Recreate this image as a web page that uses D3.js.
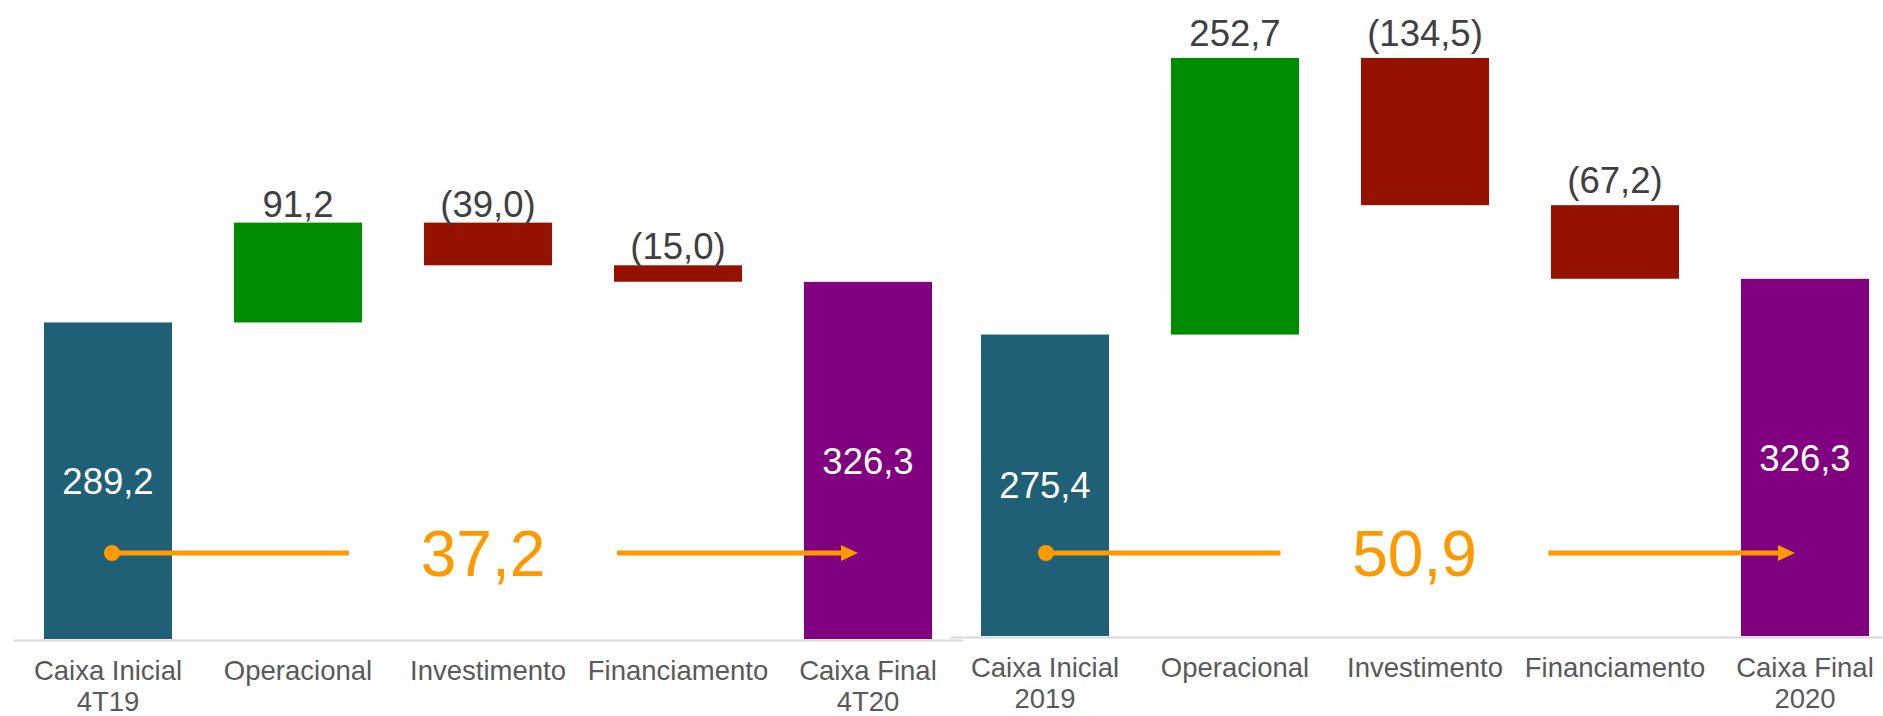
<!DOCTYPE html>
<html>
<head>
<meta charset="utf-8">
<script src="https://cdn.jsdelivr.net/npm/d3@7"></script>
<style>
  body { margin: 0; background: #fff; }
  text { font-family: "Liberation Sans", Arial, sans-serif; }
</style>
</head>
<body>
<div id="chart"></div>
<script>
// data
var leftLabels = [["Caixa Inicial", "4T19"], ["Operacional"], ["Investimento"], ["Financiamento"], ["Caixa Final", "4T20"]];
var leftValues = [289.2, 91.2, -39.0, -15.0, 326.3];
var leftChange = 37.2;

var rightLabels = [["Caixa Inicial", "2019"], ["Operacional"], ["Investimento"], ["Financiamento"], ["Caixa Final", "2020"]];
var rightValues = [275.4, 252.7, -134.5, -67.2, 326.3];
var rightChange = 50.9;

var W = 1883, H = 716;

var svg = d3.select("#chart")
    .append("svg")
    .attr("width", W)
    .attr("height", H);

var pt = d3.formatLocale({decimal: ",", thousands: ".", grouping: [3], currency: ["R$", ""]}).format(".1f");
function fmt(v) { return v < 0 ? "(" + pt(-v) + ")" : pt(v); }

var colors = {start: "#1f6076", up: "#008c00", down: "#941100", end: "#800080", arrow: "#ff9900"};

// each panel is a small waterfall
function drawPanel(labels, values, change, opt) {
    var g = svg.append("g");

    var x = d3.scaleBand()
        .domain(d3.range(values.length))
        .range(opt.xRange)
        .paddingInner(0.326)
        .paddingOuter(0.163);

    var y = d3.scaleLinear()
        .domain([0, 550])
        .range([opt.base, opt.base - 602]);

    // running totals -> [low, high] for each bar
    var acc = 0;
    var bars = values.map(function (v, i) {
        var last = i === values.length - 1;
        if (i === 0 || last) {
            acc = i === 0 ? v : acc;
            return {i: i, v: v, lo: 0, hi: v, kind: i === 0 ? "start" : "end"};
        }
        var from = acc;
        acc += v;
        return {i: i, v: v, lo: Math.min(from, acc), hi: Math.max(from, acc), kind: v >= 0 ? "up" : "down"};
    });

    g.selectAll("rect.bar")
        .data(bars)
        .join("rect")
        .attr("class", "bar")
        .attr("x", function (d) { return x(d.i); })
        .attr("width", x.bandwidth())
        .attr("y", function (d) { return y(d.hi); })
        .attr("height", function (d) { return y(d.lo) - y(d.hi); })
        .attr("fill", function (d) { return colors[d.kind]; });

    // labels above the floating bars
    g.selectAll("text.val")
        .data(bars.filter(function (d) { return d.kind === "up" || d.kind === "down"; }))
        .join("text")
        .attr("class", "val")
        .attr("x", function (d) { return x(d.i) + x.bandwidth() / 2; })
        .attr("y", function (d) { return y(d.hi) - opt.gap; })
        .attr("text-anchor", "middle")
        .style("font-size", "36.5px")
        .style("fill", "#404040")
        .text(function (d) { return fmt(d.v); });

    // labels inside the total bars
    g.selectAll("text.tot")
        .data(bars.filter(function (d) { return d.kind === "start" || d.kind === "end"; }))
        .join("text")
        .attr("class", "tot")
        .attr("x", function (d) { return x(d.i) + x.bandwidth() / 2; })
        .attr("y", function (d) { return (y(d.lo) + y(d.hi)) / 2; })
        .attr("dy", "0.36em")
        .attr("text-anchor", "middle")
        .style("font-size", "36.5px")
        .style("fill", "#fff")
        .text(function (d) { return fmt(d.v); });

    // x axis
    var ax = g.append("g")
        .attr("transform", "translate(0," + (opt.base + 1) + ")")
        .call(d3.axisBottom(x).tickSize(0).tickSizeOuter(0));
    ax.select(".domain").attr("stroke", "#d9d9d9").attr("stroke-width", 2);
    ax.selectAll(".tick text").each(function (i) {
        var t = d3.select(this).attr("y", 0).attr("dy", null).text(null)
            .style("font-size", "27.5px").style("fill", "#595959")
            .attr("font-family", null);
        labels[i].forEach(function (line, k) {
            t.append("tspan").attr("x", 0).attr("y", 40 + k * 31).text(line);
        });
    });

    // change arrow from the first to the last bar
    var x0 = x(0) + x.bandwidth() / 2 + opt.dotShift;
    var x1 = x(values.length - 1) + x.bandwidth() / 2 - 10;
    var mid = (x0 + x1) / 2 + opt.textShift;
    var ya = 553;
    var half = 134;

    g.append("line")
        .attr("x1", x0).attr("x2", mid - half)
        .attr("y1", ya).attr("y2", ya)
        .attr("stroke", colors.arrow).attr("stroke-width", 5);
    g.append("circle")
        .attr("cx", x0).attr("cy", ya).attr("r", 8)
        .attr("fill", colors.arrow);
    g.append("line")
        .attr("x1", mid + half).attr("x2", x1 - 14)
        .attr("y1", ya).attr("y2", ya)
        .attr("stroke", colors.arrow).attr("stroke-width", 5);
    g.append("path")
        .attr("d", "M" + (x1 - 17) + "," + (ya - 8) + "L" + x1 + "," + ya + "L" + (x1 - 17) + "," + (ya + 8) + "Z")
        .attr("fill", colors.arrow);
    g.append("text")
        .attr("x", mid)
        .attr("y", ya)
        .attr("dy", "0.36em")
        .attr("text-anchor", "middle")
        .style("font-size", "64px")
        .style("fill", colors.arrow)
        .text(pt(change));
}

drawPanel(leftLabels, leftValues, leftChange, {xRange: [13, 963], base: 639, gap: 6, dotShift: 4, textShift: -2});
drawPanel(rightLabels, rightValues, rightChange, {xRange: [950, 1900], base: 636, gap: 12, dotShift: 1, textShift: -6});
</script>
</body>
</html>
